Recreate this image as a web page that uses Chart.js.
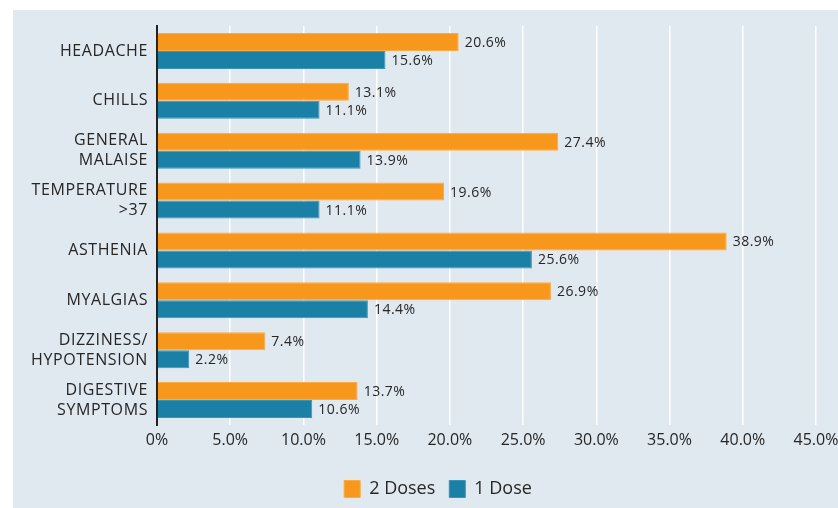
<!DOCTYPE html>
<html>
<head>
<meta charset="utf-8">
<script src="https://cdn.jsdelivr.net/npm/chart.js@4.4.1/dist/chart.umd.min.js"></script>
<style>
  html, body { margin: 0; padding: 0; background: #fff; }
  #wrap { width: 838px; height: 508px; position: relative; }
</style>
</head>
<body>
<div id="wrap"><canvas id="chart" width="838" height="508"></canvas></div>
<script>
const categories = [
  'HEADACHE',
  'CHILLS',
  ['GENERAL', 'MALAISE'],
  ['TEMPERATURE', '>37'],
  'ASTHENIA',
  'MYALGIAS',
  ['DIZZINESS/', 'HYPOTENSION'],
  ['DIGESTIVE', 'SYMPTOMS']
];
const twoDoses = [20.6, 13.1, 27.4, 19.6, 38.9, 26.9, 7.4, 13.7];
const oneDose = [15.6, 11.1, 13.9, 11.1, 25.6, 14.4, 2.2, 10.6];
const xTicks = [0, 5, 10, 15, 20, 25, 30, 35, 40, 45];

const FONT = "'Open Sans', sans-serif";
const TEXT = '#262626';

// light panel behind everything
const panelBg = {
  id: 'panelBg',
  beforeDraw(chart) {
    const ctx = chart.ctx;
    ctx.save();
    ctx.fillStyle = '#e0e8f0';
    ctx.fillRect(13, 10, chart.width - 13, chart.height - 10);
    ctx.restore();
  }
};

// spaced-out category labels + legend nudged right, like the original
const tweaks = {
  id: 'tweaks',
  afterLayout(chart) {
    const s = chart.scales.y;
    if (!s._spaced) {
      const orig = s.drawLabels.bind(s);
      s.drawLabels = (area) => {
        chart.ctx.save();
        chart.ctx.letterSpacing = '0.6px';
        orig(area);
        chart.ctx.restore();
      };
      s._spaced = true;
    }
    chart.legend.left += 30;
    chart.legend.right += 30;
  }
};

// value labels at the end of each bar
const valueLabels = {
  id: 'valueLabels',
  afterDatasetsDraw(chart) {
    const ctx = chart.ctx;
    ctx.save();
    ctx.font = '14px ' + FONT;
    ctx.letterSpacing = '0.5px';
    ctx.fillStyle = TEXT;
    ctx.textAlign = 'left';
    ctx.textBaseline = 'middle';
    chart.data.datasets.forEach((ds, i) => {
      chart.getDatasetMeta(i).data.forEach((bar, j) => {
        ctx.fillText(ds.data[j].toFixed(1) + '%', bar.x + 6, bar.y + 1);
      });
    });
    ctx.restore();
  }
};

new Chart(document.getElementById('chart'), {
  type: 'bar',
  data: {
    labels: categories,
    datasets: [
      { label: '2 Doses', data: twoDoses, backgroundColor: '#f7981d', borderColor: '#f9ab45', borderWidth: 1, borderSkipped: 'left' },
      { label: '1 Dose', data: oneDose, backgroundColor: '#1a80a6', borderColor: '#3a93b4', borderWidth: 1, borderSkipped: 'left' }
    ]
  },
  options: {
    indexAxis: 'y',
    responsive: false,
    animation: false,
    layout: { padding: { top: 26, right: 22, left: 0, bottom: 0 } },
    datasets: { bar: { categoryPercentage: 0.72, barPercentage: 1.0 } },
    scales: {
      x: {
        min: 0, max: 45,
        afterBuildTicks(scale) { scale.ticks = xTicks.map(v => ({ value: v })); },
        afterFit(scale) { scale.paddingRight = 0; scale.height = 41; },
        grid: { color: '#ffffff', lineWidth: 1.5, drawTicks: false },
        border: { display: false },
        ticks: {
          padding: 6,
          color: TEXT,
          font: { family: FONT, size: 16 },
          callback: v => v === 0 ? '0%' : v.toFixed(1) + '%'
        }
      },
      y: {
        afterFit(scale) { scale.width = 157; scale.paddingTop = 0; scale.paddingBottom = 0; },
        grid: { display: false, drawTicks: false },
        border: { display: true, color: '#222', width: 2 },
        ticks: {
          padding: 9,
          color: TEXT,
          font: { family: FONT, size: 16, lineHeight: 1.25 }
        }
      }
    },
    plugins: {
      legend: {
        position: 'bottom',
        labels: {
          color: TEXT,
          font: { family: FONT, size: 18 },
          boxWidth: 16, boxHeight: 17,
          padding: 14
        }
      },
      tooltip: { enabled: false }
    }
  },
  plugins: [panelBg, tweaks, valueLabels]
});
</script>
</body>
</html>
